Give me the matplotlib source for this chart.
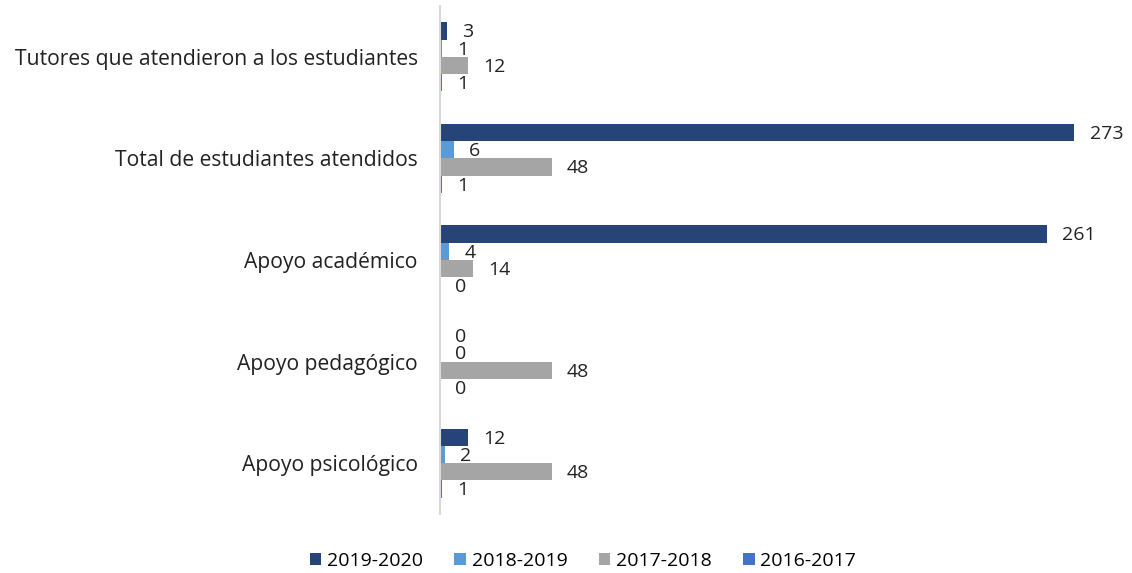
import matplotlib.pyplot as plt
import numpy as np

plt.rcParams['font.family'] = ['Open Sans', 'DejaVu Sans']

# categorias de arriba hacia abajo
categorias = ["Tutores que atendieron a los estudiantes",
              "Total de estudiantes atendidos",
              "Apoyo académico",
              "Apoyo pedagógico",
              "Apoyo psicológico"]
periodos = ["2019-2020", "2018-2019", "2017-2018", "2016-2017"]
v_2019_2020 = [3, 273, 261, 0, 12]
v_2018_2019 = [1, 6, 4, 0, 2]
v_2017_2018 = [12, 48, 14, 48, 48]
v_2016_2017 = [1, 1, 0, 0, 1]
series = [v_2019_2020, v_2018_2019, v_2017_2018, v_2016_2017]
colores = ["#264478", "#5B9BD5", "#A5A5A5", "#4472C4"]

fig = plt.figure(figsize=(11.32, 5.73), dpi=100)
ax = fig.add_axes([440 / 1132, 1 - 514 / 573, 674 / 1132, 508 / 573])

y = np.arange(len(categorias))
h = 0.17
for i, (vals, col, lab) in enumerate(zip(series, colores, periodos)):
    pos = y + (i - 1.5) * h
    ax.barh(pos, vals, height=h, color=col, label=lab)
    for p, v in zip(pos, vals):
        ax.annotate(str(v), (v, p), xytext=(11, -1), textcoords="offset points",
                    va="center", ha="left", fontsize=14, color="#222222")

ax.set_xlim(0, 290)
ax.set_ylim(len(categorias) - 0.5, -0.5)
ax.set_yticks(y)
ax.set_yticklabels(categorias, fontsize=15.2, color="#222222")
ax.tick_params(axis="y", length=0, pad=16)
ax.set_xticks([])
for s in ["top", "right", "bottom"]:
    ax.spines[s].set_visible(False)
ax.spines["left"].set_color("#D9D9D9")
ax.spines["left"].set_linewidth(1.5)

fig.legend(loc="center", bbox_to_anchor=(583 / 1132, 1 - 561 / 573), ncol=4,
           frameon=False, fontsize=14, handlelength=0.6, handleheight=0.6,
           handletextpad=0.3, columnspacing=1.6)

fig.savefig("out.png", dpi=100)
